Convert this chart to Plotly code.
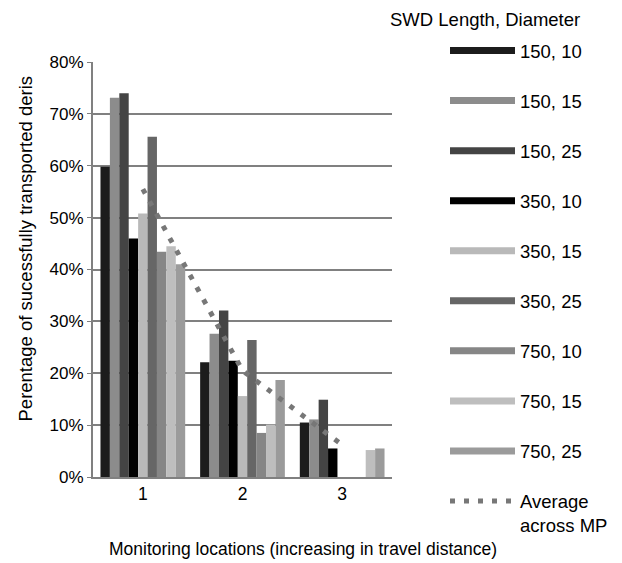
import plotly.graph_objects as go

# ---- data ----
locations = ["1", "2", "3"]
series_names = ["150, 10", "150, 15", "150, 25", "350, 10", "350, 15",
                "350, 25", "750, 10", "750, 15", "750, 25"]
v_150_10 = [0.598, 0.221, 0.105]
v_150_15 = [0.731, 0.276, 0.111]
v_150_25 = [0.740, 0.321, 0.149]
v_350_10 = [0.460, 0.224, 0.055]
v_350_15 = [0.508, 0.156, None]
v_350_25 = [0.656, 0.264, None]
v_750_10 = [0.434, 0.085, None]
v_750_15 = [0.445, 0.101, 0.052]
v_750_25 = [0.410, 0.187, 0.055]
average_mp = [0.555, 0.205, 0.062]
y_ticks = [0, 0.1, 0.2, 0.3, 0.4, 0.5, 0.6, 0.7, 0.8]

values = [v_150_10, v_150_15, v_150_25, v_350_10, v_350_15,
          v_350_25, v_750_10, v_750_15, v_750_25]
colors = ["#1c1c1c", "#8c8c8c", "#444444", "#000000", "#b9b9b9",
          "#666666", "#868686", "#bebebe", "#9b9b9b"]

FONT = "Liberation Sans, Arial, sans-serif"
W, H = 614, 555          # page adds an 8px body margin
L, PW = 85, 299          # plot left and width (figure px)
MT, MB = 10, 10          # tall paper area so the legend is not clipped
PAPER_H = H - MT - MB
AX_TOP, AX_BOT = 54, 469  # axis top / bottom in figure px


def py(screen_y):
    """screen px (reference) -> paper y"""
    f = screen_y - 8
    return (H - MB - f) / PAPER_H


def px(screen_x):
    f = screen_x - 8
    return (f - L) / PW


fig = go.Figure()

for name, vals, col in zip(series_names, values, colors):
    fig.add_trace(go.Bar(x=locations, y=vals, name=name, marker=dict(color=col, line=dict(width=0)),
                         showlegend=False, legendgroup=name))
    fig.add_trace(go.Scatter(x=[None], y=[None], mode="lines", name=name, legendgroup=name,
                             line=dict(color=col, width=7)))

fig.add_trace(go.Scatter(x=locations, y=average_mp, mode="lines", name="Average<br>across MP",
                         legendgroup="avg",
                         line=dict(color="#777777", width=5, dash="5px,9px")))

fig.update_layout(
    width=W, height=H,
    margin=dict(l=L, r=W - L - PW, t=MT, b=MB, autoexpand=False),
    paper_bgcolor="white", plot_bgcolor="white",
    font=dict(family=FONT, size=17, color="#000000"),
    barmode="group", bargap=0.15, bargroupgap=0,
    showlegend=True,
    legend=dict(x=px(445), xanchor="left", y=py(32), yanchor="top",
                font=dict(size=18.5), itemwidth=65, tracegroupgap=23,
                valign="top", bgcolor="rgba(0,0,0,0)"),
    annotations=[
        dict(text="SWD Length, Diameter", x=px(484.5), y=py(19),
             xref="paper", yref="paper", showarrow=False, font=dict(size=18.5),
             xanchor="center", yanchor="middle"),
        dict(text="Monitoring locations (increasing in travel distance)",
             x=px(302.5), y=py(549), xref="paper", yref="paper",
             showarrow=False, font=dict(size=17.5), xanchor="center", yanchor="middle"),
        dict(text="Perentage of sucessfully transported deris",
             x=px(25), y=py(248.5), xref="paper", yref="paper",
             showarrow=False, font=dict(size=18.5), textangle=-90,
             xanchor="center", yanchor="middle"),
    ],
)

fig.update_xaxes(showline=True, linecolor="#808080", linewidth=2, ticks="",
                 showgrid=False, tickfont=dict(size=17.5), fixedrange=True)
fig.update_yaxes(range=[0, 0.8], tickvals=y_ticks, tickformat=".0%",
                 domain=[(H - MB - AX_BOT) / PAPER_H, (H - MB - AX_TOP) / PAPER_H],
                 showgrid=True, gridcolor="#808080", gridwidth=2,
                 showline=True, linecolor="#808080", linewidth=2,
                 ticks="outside", ticklen=4, tickcolor="#808080",
                 tickfont=dict(size=17), zeroline=False, fixedrange=True)

fig.write_html("out.html")
